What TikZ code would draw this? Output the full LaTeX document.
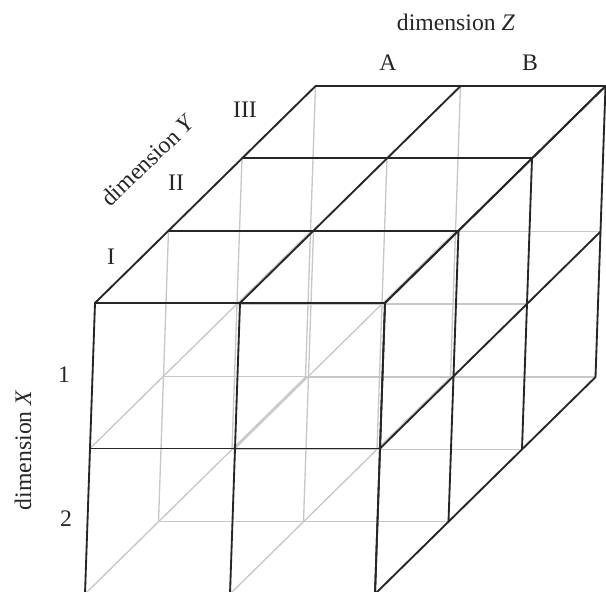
\documentclass[tikz,border=0pt]{standalone}
\usepackage{fontspec}
\setmainfont{Liberation Serif}
\usepackage{tikz}
\usetikzlibrary{positioning}

\begin{document}
\begin{tikzpicture}[
  font=\fontsize{13.5}{16}\selectfont,
  edge/.style  ={draw=black!85, line width=1.05pt, line cap=round},
  hidden/.style={draw=black!22, line width=0.75pt},
  lbl/.style   ={inner sep=0pt, text=black!85}
  ]

  \useasboundingbox (0,0) rectangle (12.12,-11.82);
  \clip (0,0) rectangle (12.12,-11.82);

  % cells: x = dimension Z, y = dimension Y, z = dimension X
  \begin{scope}[shift={(1.90,-6.06)}, x={(2.90cm,0cm)}, y={(1.47cm,1.446cm)}, z={(-0.10cm,-2.91cm)}]
    % hidden lattice
    \foreach \b in {0,...,3} \foreach \c in {0,1,2} \draw[hidden] (0,\b,\c) -- (2,\b,\c);
    \foreach \a in {0,1,2} \foreach \c in {0,1,2} \draw[hidden] (\a,0,\c) -- (\a,3,\c);
    \foreach \a in {0,1,2} \foreach \b in {0,...,3} \draw[hidden] (\a,\b,0) -- (\a,\b,2);

    % top face
    \foreach \b in {0,...,3} \draw[edge] (0,\b,0) -- (2,\b,0);
    \foreach \a in {0,1,2} \draw[edge] (\a,0,0) -- (\a,3,0);
    % front face
    \foreach \c in {0,1,2} \draw[edge] (0,0,\c) -- (2,0,\c);
    \foreach \a in {0,1,2} \draw[edge] (\a,0,0) -- (\a,0,2);
    % right face
    \foreach \b in {0,...,3} \draw[edge] (2,\b,0) -- (2,\b,2);
    \foreach \c in {0,1,2} \draw[edge] (2,0,\c) -- (2,3,\c);
  \end{scope}

  % labels
  \node[lbl] (dimz) at (9.12,-0.44) {dimension \textit{Z}};
  \node[lbl] (za) at (7.76,-1.26) {A};
  \node[lbl] (zb) at (10.60,-1.26) {B};

  \node[lbl, rotate=44] (dimy) at (2.96,-3.20) {dimension \textit{Y}};
  \node[lbl] (yi)   at (2.22,-5.14) {I};
  \node[lbl] (yii)  at (3.52,-3.66) {II};
  \node[lbl] (yiii) at (4.90,-2.20) {III};

  \node[lbl, rotate=90] (dimx) at (0.46,-9.00) {dimension \textit{X}};
  \node[lbl] (x1) at (1.28,-7.50) {1};
  \node[lbl] (x2) at (1.32,-10.38) {2};

\end{tikzpicture}
\end{document}
